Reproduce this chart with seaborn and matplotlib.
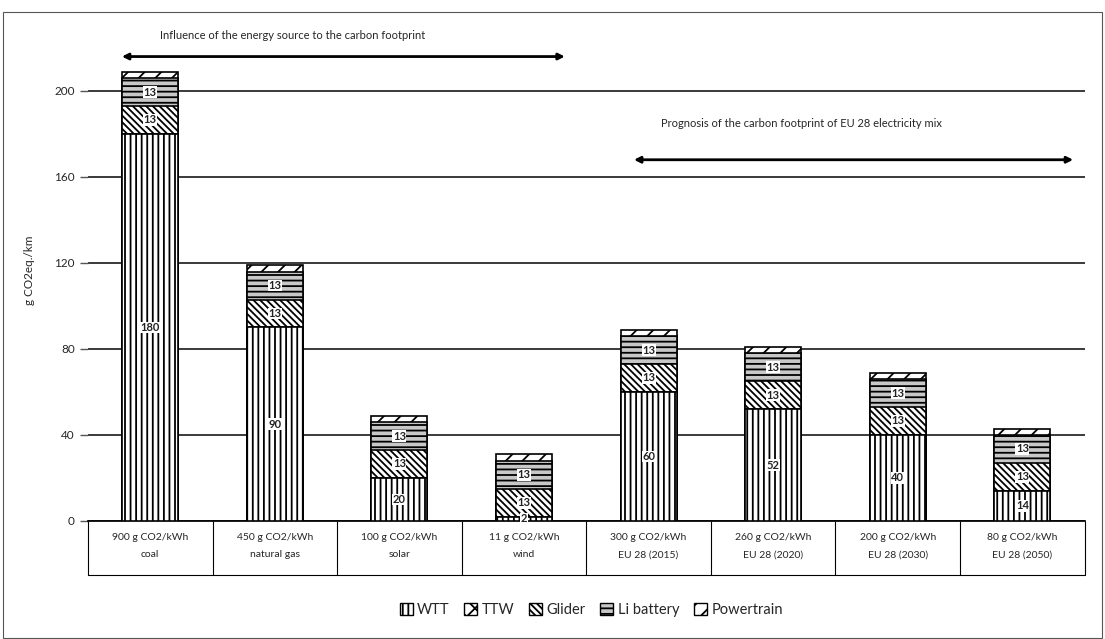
import pandas as pd
import seaborn as sns
import matplotlib.pyplot as plt
import numpy as np
from matplotlib.patches import Patch, Rectangle

# data
energy = ["900 g CO2/kWh", "450 g CO2/kWh", "100 g CO2/kWh", "11 g CO2/kWh",
          "300 g CO2/kWh", "260 g CO2/kWh", "200 g CO2/kWh", "80 g CO2/kWh"]
source = ["coal", "natural gas", "solar", "wind",
          "EU 28 (2015)", "EU 28 (2020)", "EU 28 (2030)", "EU 28 (2050)"]
wtt = [180, 90, 20, 2, 60, 52, 40, 14]
ttw = [0, 0, 0, 0, 0, 0, 0, 0]
glider = [13, 13, 13, 13, 13, 13, 13, 13]
battery = [13, 13, 13, 13, 13, 13, 13, 13]
powertrain = [3, 3, 3, 3, 3, 3, 3, 3]
yticks = [0, 40, 80, 120, 160, 200]

sns.set_theme(style="white")
plt.rcParams['font.family'] = ['Liberation Sans Narrow', 'Lato', 'DejaVu Sans']
plt.rcParams['hatch.linewidth'] = 1.3

df = pd.DataFrame({
    "cat": [a + "\n" + b for a, b in zip(energy, source)],
    "WTT": wtt, "TTW": ttw, "Glider": glider,
    "Li battery": battery, "Powertrain": powertrain,
})
layers = ["WTT", "TTW", "Glider", "Li battery", "Powertrain"]
styles = {
    "WTT": dict(color="white", hatch="|||"),
    "TTW": dict(color="white", hatch="xx"),
    "Glider": dict(color="white", hatch="\\\\\\\\\\"),
    "Li battery": dict(color="#c8c8c8", hatch="---"),
    "Powertrain": dict(color="white", hatch="//"),
}
cum = df[layers].cumsum(axis=1)

fig = plt.figure(figsize=(11.05, 6.39), dpi=100)
ax = fig.add_axes([0.0796, 0.1847, 0.902, 0.784])

# draw cumulative totals from the top layer down
for layer in reversed(layers):
    sns.barplot(data=cum.assign(cat=df["cat"]), x="cat", y=layer, ax=ax,
                width=0.45, saturation=1, edgecolor="black", linewidth=1.2,
                zorder=3, **styles[layer])

# segment value labels
for layer in ["WTT", "Glider", "Li battery"]:
    for i, v in enumerate(df[layer]):
        mid = cum[layer][i] - v / 2
        ax.text(i, mid, str(v), ha="center", va="center", fontsize=8,
                fontweight="bold", color="#222", zorder=5,
                bbox=dict(facecolor="white", edgecolor="none", pad=0.3))

ax.set_xlim(-0.5, 7.5)
ax.set_ylim(0, 233)
ax.set_yticks(yticks)
ax.yaxis.grid(True, color="#3a3a3a", linewidth=1.4, zorder=0)
ax.set_axisbelow(True)
ax.set_xlabel("")
ax.set_ylabel("g CO2eq./km", fontsize=8.5, labelpad=14)
for s in ["top", "right", "left"]:
    ax.spines[s].set_visible(False)
ax.spines["bottom"].set_color("black")

ax.tick_params(axis="y", length=6, width=1, color="#555", labelsize=8.5, left=True)
ax.tick_params(axis="x", which="major", length=0, pad=9, labelsize=7.5)
for t in ax.get_xticklabels():
    t.set_linespacing(2.1)
ax.set_xticks(np.arange(-0.5, 8, 1), minor=True)
ax.tick_params(axis="x", which="minor", length=39, width=0.8, color="black", bottom=True)
ax.plot([-0.5, 7.5], [-0.108, -0.108], transform=ax.get_xaxis_transform(),
        clip_on=False, color="black", lw=0.8)

# annotations with double arrows
arrow = dict(arrowstyle="<|-|>", lw=2, color="black", mutation_scale=9)
ax.annotate("", xy=(3.35, 216), xytext=(-0.25, 216), arrowprops=arrow,
            annotation_clip=False)
ax.text(0.08, 226, "Influence of the energy source to the carbon footprint",
        fontsize=8, va="center")
ax.annotate("", xy=(7.43, 168), xytext=(3.86, 168), arrowprops=arrow,
            annotation_clip=False)
ax.text(4.1, 185, "Prognosis of the carbon footprint of EU 28 electricity mix",
        fontsize=8, va="center")

handles = [Patch(facecolor=styles[l]["color"], hatch=styles[l]["hatch"],
                 edgecolor="black", label=l) for l in layers]
fig.legend(handles=handles, loc="center", bbox_to_anchor=(0.535, 0.045), ncol=5,
           frameon=False, fontsize=10.5, handlelength=0.9, handleheight=0.9,
           handletextpad=0.3, columnspacing=1.0)

fig.patches.append(Rectangle((0.003, 0.002), 0.994, 0.979, transform=fig.transFigure,
                             fill=False, lw=0.8, edgecolor="#555"))

fig.savefig("out.png", dpi=100)
